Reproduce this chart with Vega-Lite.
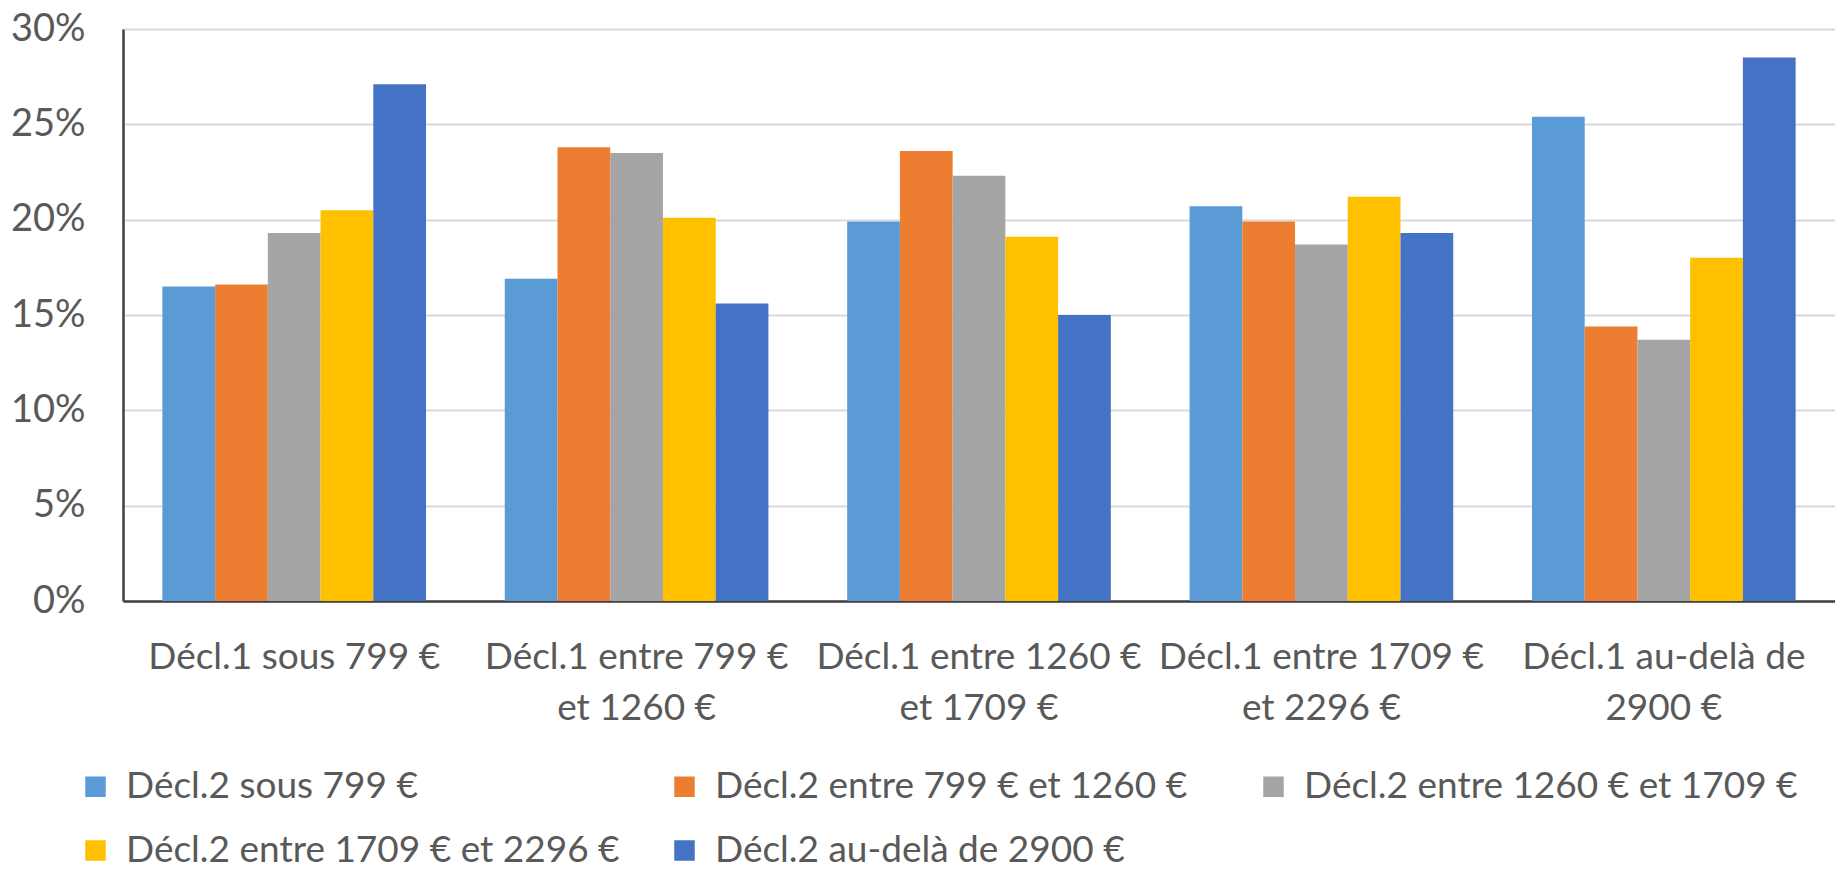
{
  "$schema": "https://vega.github.io/schema/vega-lite/v6.json",
  "width": 1712,
  "height": 572,
  "autosize": {"type": "none"},
  "padding": {"left": 123, "top": 29, "right": 0, "bottom": 271},
  "background": "white",
  "config": {
    "view": {"stroke": null},
    "font": "Lato",
    "axis": {"labelFont": "Lato", "labelColor": "#595959"},
    "legend": {"labelFont": "Lato", "labelColor": "#595959"}
  },
  "data": {
    "values": [
      {"decl1": "Décl.1 sous 799 €", "decl2": "Décl.2 sous 799 €", "share": 0.165},
      {"decl1": "Décl.1 sous 799 €", "decl2": "Décl.2 entre 799 € et 1260 €", "share": 0.166},
      {"decl1": "Décl.1 sous 799 €", "decl2": "Décl.2 entre 1260 € et 1709 €", "share": 0.193},
      {"decl1": "Décl.1 sous 799 €", "decl2": "Décl.2 entre 1709 € et 2296 €", "share": 0.205},
      {"decl1": "Décl.1 sous 799 €", "decl2": "Décl.2 au-delà de 2900 €", "share": 0.271},
      {"decl1": "Décl.1 entre 799 € et 1260 €", "decl2": "Décl.2 sous 799 €", "share": 0.169},
      {"decl1": "Décl.1 entre 799 € et 1260 €", "decl2": "Décl.2 entre 799 € et 1260 €", "share": 0.238},
      {"decl1": "Décl.1 entre 799 € et 1260 €", "decl2": "Décl.2 entre 1260 € et 1709 €", "share": 0.235},
      {"decl1": "Décl.1 entre 799 € et 1260 €", "decl2": "Décl.2 entre 1709 € et 2296 €", "share": 0.201},
      {"decl1": "Décl.1 entre 799 € et 1260 €", "decl2": "Décl.2 au-delà de 2900 €", "share": 0.156},
      {"decl1": "Décl.1 entre 1260 € et 1709 €", "decl2": "Décl.2 sous 799 €", "share": 0.199},
      {"decl1": "Décl.1 entre 1260 € et 1709 €", "decl2": "Décl.2 entre 799 € et 1260 €", "share": 0.236},
      {"decl1": "Décl.1 entre 1260 € et 1709 €", "decl2": "Décl.2 entre 1260 € et 1709 €", "share": 0.223},
      {"decl1": "Décl.1 entre 1260 € et 1709 €", "decl2": "Décl.2 entre 1709 € et 2296 €", "share": 0.191},
      {"decl1": "Décl.1 entre 1260 € et 1709 €", "decl2": "Décl.2 au-delà de 2900 €", "share": 0.150},
      {"decl1": "Décl.1 entre 1709 € et 2296 €", "decl2": "Décl.2 sous 799 €", "share": 0.207},
      {"decl1": "Décl.1 entre 1709 € et 2296 €", "decl2": "Décl.2 entre 799 € et 1260 €", "share": 0.199},
      {"decl1": "Décl.1 entre 1709 € et 2296 €", "decl2": "Décl.2 entre 1260 € et 1709 €", "share": 0.187},
      {"decl1": "Décl.1 entre 1709 € et 2296 €", "decl2": "Décl.2 entre 1709 € et 2296 €", "share": 0.212},
      {"decl1": "Décl.1 entre 1709 € et 2296 €", "decl2": "Décl.2 au-delà de 2900 €", "share": 0.193},
      {"decl1": "Décl.1 au-delà de 2900 €", "decl2": "Décl.2 sous 799 €", "share": 0.254},
      {"decl1": "Décl.1 au-delà de 2900 €", "decl2": "Décl.2 entre 799 € et 1260 €", "share": 0.144},
      {"decl1": "Décl.1 au-delà de 2900 €", "decl2": "Décl.2 entre 1260 € et 1709 €", "share": 0.137},
      {"decl1": "Décl.1 au-delà de 2900 €", "decl2": "Décl.2 entre 1709 € et 2296 €", "share": 0.180},
      {"decl1": "Décl.1 au-delà de 2900 €", "decl2": "Décl.2 au-delà de 2900 €", "share": 0.285}
    ]
  },
  "mark": {"type": "bar"},
  "encoding": {
    "x": {
      "field": "decl1",
      "type": "nominal",
      "sort": null,
      "scale": {"paddingInner": 0.23, "paddingOuter": 0.115},
      "axis": {
        "title": null,
        "labelAngle": 0,
        "labelFontSize": 37,
        "labelLineHeight": 51,
        "labelLimit": 600,
        "labelPadding": 38,
        "ticks": false,
        "domainColor": "#404040",
        "domainWidth": 2.5,
        "labelExpr": "indexof(datum.label, ' et ') > 0 ? [slice(datum.label, 0, indexof(datum.label, ' et ')), slice(datum.label, indexof(datum.label, ' et ') + 1)] : (indexof(datum.label, 'de ') > 0 ? [slice(datum.label, 0, indexof(datum.label, 'de ') + 2), slice(datum.label, indexof(datum.label, 'de ') + 3)] : datum.label)"
      }
    },
    "xOffset": {
      "field": "decl2",
      "type": "nominal",
      "sort": null,
      "scale": {"paddingInner": 0, "paddingOuter": 0}
    },
    "y": {
      "field": "share",
      "type": "quantitative",
      "scale": {"domain": [0, 0.3], "nice": false},
      "axis": {
        "title": null,
        "values": [0, 0.05, 0.1, 0.15, 0.2, 0.25, 0.3],
        "format": ".0%",
        "labelFontSize": 38,
        "labelPadding": 38,
        "ticks": false,
        "domainColor": "#404040",
        "domainWidth": 2.5,
        "gridColor": "#D9D9D9",
        "gridWidth": 2
      }
    },
    "color": {
      "field": "decl2",
      "type": "nominal",
      "sort": null,
      "scale": {
        "domain": ["Décl.2 sous 799 €", "Décl.2 entre 799 € et 1260 €", "Décl.2 entre 1260 € et 1709 €", "Décl.2 entre 1709 € et 2296 €", "Décl.2 au-delà de 2900 €"],
        "range": ["#5B9BD5", "#ED7D31", "#A5A5A5", "#FFC000", "#4472C4"]
      },
      "legend": {
        "title": null,
        "orient": "none",
        "legendX": -46,
        "legendY": 739,
        "direction": "horizontal",
        "columns": 3,
        "gridAlign": "all",
        "columnPadding": 46,
        "rowPadding": 26,
        "padding": 0,
        "symbolType": "square",
        "symbolSize": 420,
        "symbolStrokeWidth": 0,
        "labelFontSize": 37,
        "labelLimit": 700,
        "labelOffset": 12
      }
    }
  }
}
